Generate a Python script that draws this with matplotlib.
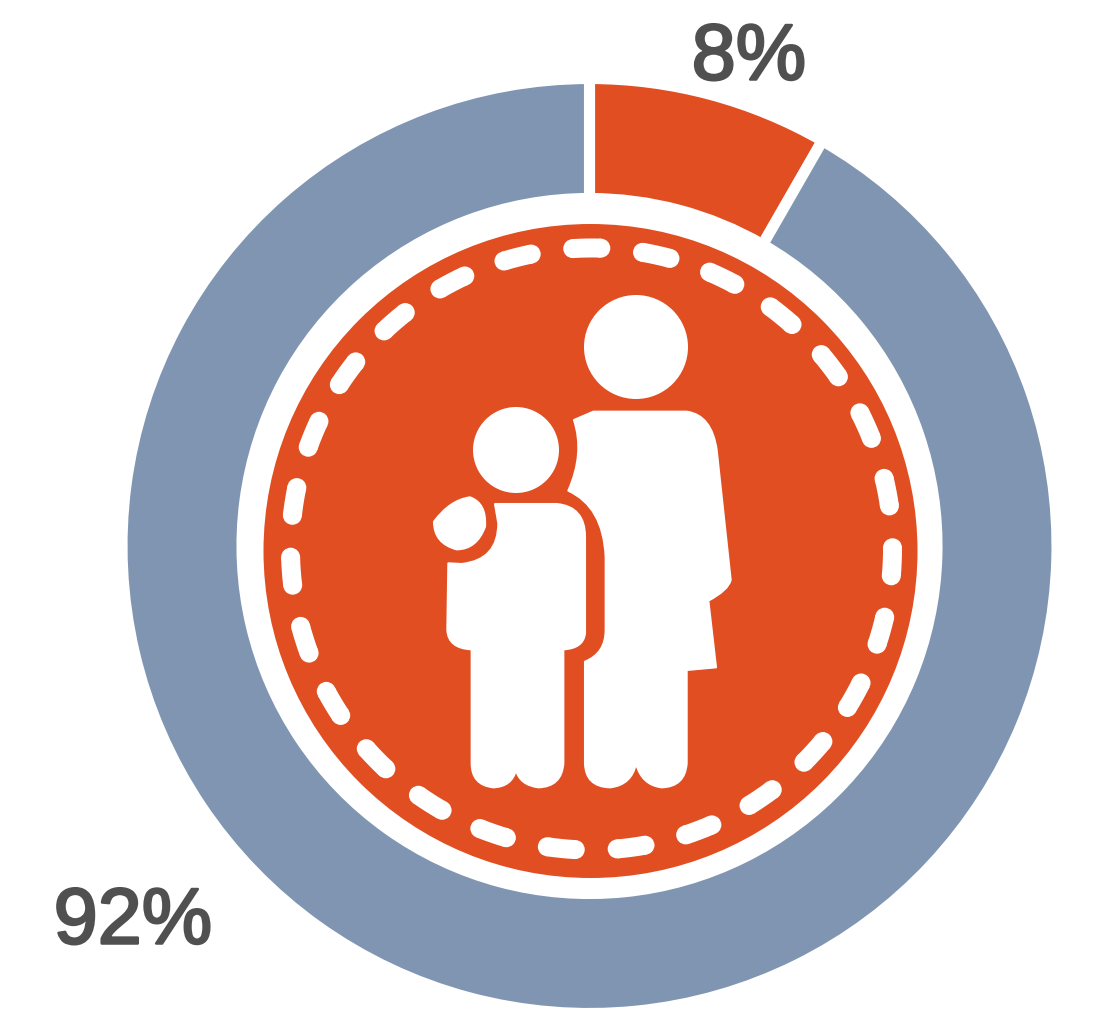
import numpy as np
import matplotlib
matplotlib.use('Agg')
import matplotlib.pyplot as plt
import matplotlib.patheffects as pe
from matplotlib.patches import Circle, PathPatch, Wedge
from matplotlib.path import Path

# Datos del grafico (el sector medido es algo mayor que la etiqueta redondeada)
shares = [8.3, 91.7]
share_labels = ['8%', '92%']
share_colors = ['#E04E22', '#7F95B2']

W, H = 1104, 1023
ORANGE = '#E04E22'
TEXT = '#505050'


def py(y):
    # el eje va de abajo a arriba, la imagen de arriba a abajo
    return H - y


def icon_path(start, segments):
    # convierte puntos medidos en el zoom (3x, origen 420,280) a una Path
    verts = [start]
    codes = [Path.MOVETO]
    for seg in segments:
        if len(seg) == 2:
            verts.append(seg)
            codes.append(Path.LINETO)
        else:
            verts += [seg[:2], seg[2:]]
            codes += [Path.CURVE3, Path.CURVE3]
    verts.append(start)
    codes.append(Path.CLOSEPOLY)
    return Path([(420 + x / 3, py(280 + y / 3)) for x, y in verts], codes)


fig = plt.figure(figsize=(W / 100, H / 100), dpi=100)
ax = fig.add_axes([0, 0, 1, 1])

# Anillo
ax.pie(shares, colors=share_colors, startangle=90, counterclock=False,
       center=(589.5, py(546)), radius=467.5, frame=True,
       wedgeprops=dict(width=120, edgecolor='white', linewidth=8))

# Circulo interior
cx, cy, r = 590.5, py(551), 327
ax.add_patch(Circle((cx, cy), r, color=ORANGE, lw=0))

# Costura punteada
sx, sy, sr, half = 591.5, py(549), 301, 9.5
for i in range(27):
    mid = 90.9 - i * 360 / 27
    ax.add_patch(Wedge((sx, sy), sr + half, mid - 2.67, mid + 2.67, width=2 * half,
                       fc='white', lw=0))
    for a in (mid - 2.67, mid + 2.67):
        ax.add_patch(Circle((sx + sr * np.cos(np.radians(a)), sy + sr * np.sin(np.radians(a))),
                            half, fc='white', lw=0))

# Cabezas
ax.add_patch(Circle((636, py(347)), 52, color='white', lw=0))
ax.add_patch(Circle((516, py(450)), 43, color='white', lw=0))

# Mano del nino
hand = icon_path((42, 725), [
    (90, 660, 150, 652), (200, 670, 195, 740), (170, 808, 110, 808), (42, 790, 42, 725)])
ax.add_patch(PathPatch(hand, fc='white', ec='white', lw=1.5, joinstyle='round'))

# Cuerpo del nino
child = icon_path((225, 672), [
    (410, 672), (495, 680, 495, 770), (495, 1060), (490, 1105, 430, 1108), (430, 1450),
    (425, 1520, 355, 1522), (300, 1515, 288, 1470), (275, 1520, 220, 1522),
    (155, 1515, 155, 1450), (155, 1108), (85, 1105, 82, 1050), (85, 850),
    (125, 852), (235, 840, 235, 730)])
ax.add_patch(PathPatch(child, fc='white', ec='white', lw=1.5, joinstyle='round'))

# Cuerpo del adulto
adult = icon_path((462, 420), [
    (520, 395), (800, 395), (875, 405, 890, 510), (932, 900), (925, 930, 865, 962),
    (888, 1162), (800, 1170), (800, 1450), (795, 1520, 725, 1522),
    (665, 1515, 648, 1450), (635, 1515, 570, 1522), (497, 1520, 495, 1450),
    (495, 1145), (557, 1120, 557, 1050), (557, 830), (550, 680, 445, 632),
    (495, 520, 462, 420)])
ax.add_patch(PathPatch(adult, fc='white', ec='white', lw=1.5, joinstyle='round'))

# Etiquetas
stroke = [pe.withStroke(linewidth=1.8, foreground=TEXT)]
ax.text(749, py(59), share_labels[0], ha='center', va='center', color=TEXT,
        fontsize=57, family='Liberation Sans', path_effects=stroke)
ax.text(133, py(923), share_labels[1], ha='center', va='center', color=TEXT,
        fontsize=57, family='Liberation Sans', path_effects=stroke)

ax.set_xlim(0, W)
ax.set_ylim(0, H)
ax.set_aspect('equal')
ax.axis('off')

fig.savefig('out.png', dpi=100, facecolor='white')
